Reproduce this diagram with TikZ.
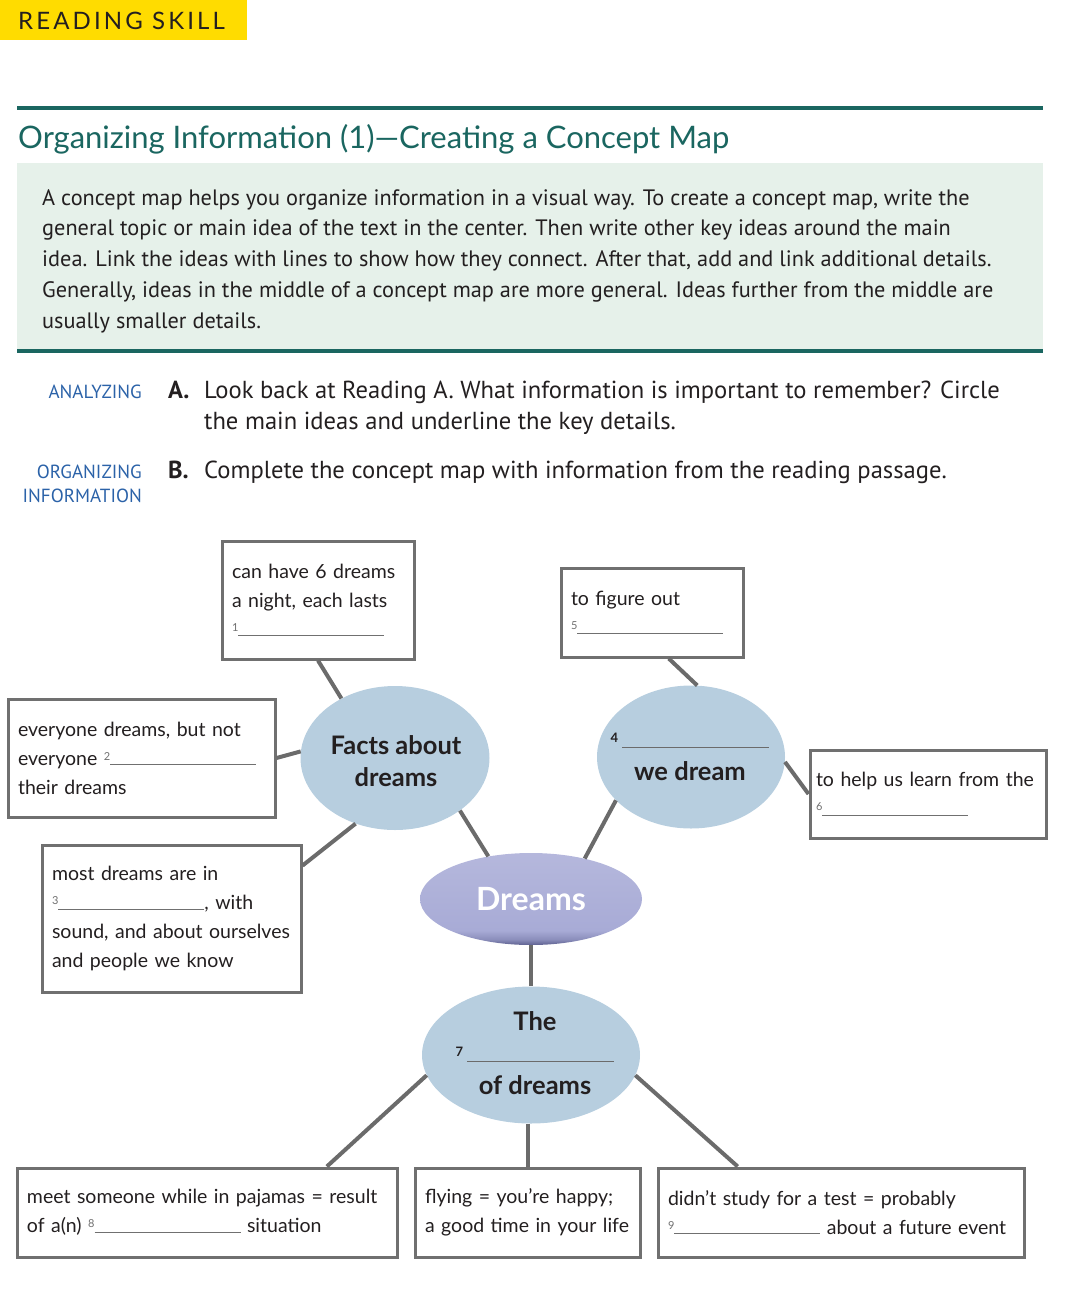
\documentclass[tikz,border=0pt]{standalone}
\usepackage{fontspec}
\setmainfont{PT Sans}
\newfontfamily\mapfont{Lato}
\usepackage{tikz}
\usetikzlibrary{shapes.geometric}

\definecolor{banner}{HTML}{FFDC00}
\definecolor{skillteal}{HTML}{1A6660}
\definecolor{mint}{HTML}{E6F1EA}
\definecolor{tagblue}{HTML}{2B62A8}
\definecolor{ink}{HTML}{231F20}
\definecolor{boxgray}{HTML}{707070}
\definecolor{linkgray}{HTML}{6B6B6B}
\definecolor{bubbleblue}{HTML}{B7CEDF}
\definecolor{lav}{HTML}{A8ABD6}
\definecolor{lavdark}{HTML}{5E6190}

\pgfdeclareverticalshading{dreamshade}{100bp}{color(0bp)=(lavdark); color(25bp)=(lavdark); color(28bp)=(lav!60!lavdark); color(33bp)=(lav); color(75bp)=(lav!85!white); color(100bp)=(lav!85!white)}

% blanks to fill in
\newcommand{\blank}[1]{{\color{boxgray}\raisebox{5pt}{\fontsize{11}{11}\selectfont #1}\rule{146pt}{1pt}}}
\newcommand{\bubblegap}[1]{\raisebox{6pt}{\fontsize{13}{13}\selectfont #1}\,{\color{linkgray}\rule{147pt}{1.3pt}}}

\begin{document}
\begin{tikzpicture}[x=1pt,y=-1pt,
  box/.style={draw=boxgray, line width=3pt, fill=white, align=left, inner xsep=10pt, inner ysep=0pt, font=\mapfont\fontsize{19.5}{29}\selectfont, text=ink},
  bubble/.style={ellipse, fill=bubbleblue, inner sep=0pt},
  bubbletext/.style={align=center, inner sep=0pt, font=\mapfont\bfseries\fontsize{25.5}{32}\selectfont, text=ink},
  tag/.style={anchor=base east, inner sep=0pt, align=right, font=\fontsize{19}{24}\selectfont, text=tagblue},
  task/.style={anchor=base west, inner sep=0pt, align=left, font=\fontsize{24.6}{31}\selectfont, text=ink},
  link/.style={draw=linkgray, line width=4pt}]

\useasboundingbox (0,0) rectangle (1080,1293);

% heading
\fill [banner] (0,0) rectangle (247,40);
\node [anchor=base west, inner sep=0pt, font=\mapfont\addfontfeature{LetterSpace=13}\fontsize{24}{24}\selectfont, text=ink] (skill) at (18,29) {READING SKILL};
\draw [skillteal, line width=4pt] (17,108) -- (1043,108);
\node [anchor=base west, inner sep=0pt, font=\mapfont\fontsize{31}{31}\selectfont, text=skillteal] (title) at (18,148) {Organizing Information (1)—Creating a Concept Map};
\fill [mint] (17,163) rectangle (1043,349);
\draw [skillteal, line width=4pt] (17,351) -- (1043,351);
\node [anchor=base west, inner sep=0pt, align=left, font=\fontsize{22.3}{30.75}\selectfont, text=ink] (intro) at (42,328) {A concept map helps you organize information in a visual way. To create a concept map, write the\\
general topic or main idea of the text in the center. Then write other key ideas around the main\\
idea. Link the ideas with lines to show how they connect. After that, add and link additional details.\\
Generally, ideas in the middle of a concept map are more general. Ideas further from the middle are\\
usually smaller details.};

% exercises
\node [tag] (analyzing) at (142,398) {ANALYZING};
\node [task] (parta) at (168,398) {\textbf{A.}};
\node [task] (parttexta) at (204,429) {Look back at Reading A. What information is important to remember? Circle\\the main ideas and underline the key details.};
\node [tag] (organizing) at (142,502) {ORGANIZING\\INFORMATION};
\node [task] (partb) at (168,478) {\textbf{B.}};
\node [task] (parttextb) at (204,478) {Complete the concept map with information from the reading passage.};

% concept map
\node [bubble, minimum width=189pt, minimum height=144pt] (facts) at (395,758) {};
\node [bubbletext, anchor=base] (factstext) at (396,786) {Facts about\\dreams};
\node [bubble, minimum width=188pt, minimum height=143pt] (why) at (691,757) {};
\node [bubbletext, anchor=base] (whytext) at (690,780) {\bubblegap{4}\\we dream};
\node [bubble, minimum width=218pt, minimum height=137pt] (meaning) at (531,1055) {};
\node [bubbletext, anchor=base] (meaningtext) at (535,1094) {The\\\bubblegap{7}\\of dreams};
\node [ellipse, shading=dreamshade, minimum width=222pt, minimum height=92pt, inner sep=0pt, font=\mapfont\bfseries\fontsize{32}{32}\selectfont, text=white] (dreams) at (531,899) {Dreams};

\node [box, text width=172pt, minimum height=118pt] (howlong) at (318,600) {can have 6 dreams\\a night, each lasts\\\blank{1}};
\node [box, text width=162pt, minimum height=89pt] (purpose) at (652,612.5) {to figure out\\\blank{5}};
\node [box, text width=247pt, minimum height=118pt] (forget) at (141.5,758) {everyone dreams, but not\\everyone \blank{2}\\their dreams};
\node [box, text width=239pt, minimum height=147pt] (colour) at (171.5,918.5) {most dreams are in\\\blank{3}, with\\sound, and about ourselves\\and people we know};
\node [box, text width=224pt, inner xsep=6pt, minimum height=88pt] (lesson) at (928,794) {to help us learn from the\\\blank{6}};
\node [box, text width=360pt, minimum height=89pt] (pajamas) at (207,1212.5) {meet someone while in pajamas = result\\of a(n) \blank{8} situation};
\node [box, text width=205pt, minimum height=89pt] (flying) at (527.5,1212.5) {flying = you’re happy;\\a good time in your life};
\node [box, text width=346pt, minimum height=89pt] (test) at (841,1212.5) {didn’t study for a test = probably\\\blank{9} about a future event};

\draw [link] (howlong.south) -- (facts.132);
\draw [link] (forget.east) -- (facts.176);
\draw [link] (colour.22) -- (facts.239);
\draw [link] (facts.321) -- (dreams.135);
\draw [link] (purpose.-70) -- (why.85);
\draw [link] (why.210) -- (dreams.37);
\draw [link] (why.357) -- (lesson.west);
\draw [link] (dreams.south) -- (meaning.north);
\draw [link] (meaning.191) -- (pajamas.21);
\draw [link] (flying.north |- meaning.south) -- (flying.north);
\draw [link] (meaning.349) -- (test.156);
\end{tikzpicture}
\end{document}
